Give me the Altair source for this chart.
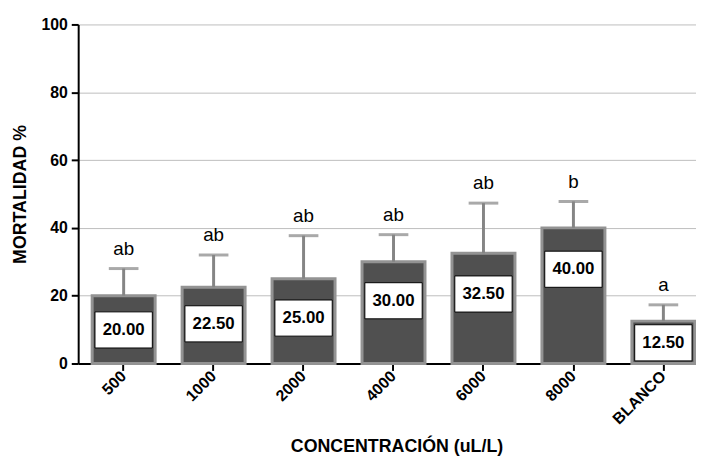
import altair as alt
import pandas as pd

categories = ["500", "1000", "2000", "4000", "6000", "8000", "BLANCO"]
mortality = [20.0, 22.5, 25.0, 30.0, 32.5, 40.0, 12.5]
error_top = [28.0, 32.0, 37.7, 38.0, 47.3, 47.8, 17.3]
letters = ["ab", "ab", "ab", "ab", "ab", "b", "a"]
label_y = [9.9, 11.7, 13.4, 18.5, 20.5, 27.8, 6.1]

df = pd.DataFrame({
    "cat": categories,
    "val": mortality,
    "err": error_top,
    "letter": letters,
    "ly": label_y,
    "txt": [f"{v:.2f}" for v in mortality],
})

FONT = "Liberation Sans"

xscale = alt.Scale(domain=categories, paddingInner=0.3, paddingOuter=0.084, align=0.925)
yscale = alt.Scale(domain=[0, 100], nice=False)

xaxis = alt.Axis(title="CONCENTRACIÓN (uL/L)", labelAngle=-45, labelAlign="right",
                 labelBaseline="middle", grid=False,
                 labelFont=FONT, labelFontWeight="bold", labelFontSize=16, labelColor="black",
                 labelPadding=3,
                 tickColor="black", tickSize=7, tickWidth=2,
                 domainColor="black", domainWidth=2,
                 titleFont=FONT, titleFontWeight="bold", titleFontSize=18, titleColor="black",
                 titleX=322, titleY=89, titleBaseline="alphabetic")
yaxis = alt.Axis(title="MORTALIDAD %", values=[0, 20, 40, 60, 80, 100],
                 labelFont=FONT, labelFontWeight="bold", labelFontSize=16, labelColor="black",
                 labelPadding=4,
                 tickColor="black", tickSize=7, tickWidth=2,
                 domainColor="black", domainWidth=2,
                 gridColor="#bdbdbd", gridWidth=1,
                 titleFont=FONT, titleFontWeight="bold", titleFontSize=18, titleColor="black",
                 titlePadding=12)


def X():
    return alt.X("cat:N", scale=xscale, sort=None, axis=xaxis)


def Y(field):
    return alt.Y(field, scale=yscale, axis=yaxis)


base = alt.Chart(df)

bars = base.mark_bar(fill="#505050", stroke="#939393", strokeWidth=3).encode(x=X(), y=Y("val:Q"))

errs = base.mark_rule(color="#858585", strokeWidth=3).encode(
    x=X(), y=Y("val:Q"), y2="err:Q",
)

caps = base.mark_tick(color="#858585", thickness=3, size=30, orient="horizontal").encode(
    x=X(), y=Y("err:Q"),
)

letter_text = base.mark_text(font=FONT, fontSize=19, baseline="bottom", dy=-10, color="black").encode(
    x=X(), y=Y("err:Q"), text="letter:N",
)

boxes = base.mark_point(
    shape="M-1,-0.63L1,-0.63L1,0.63L-1,0.63Z", size=3364, filled=True,
    fill="white", stroke="black", strokeWidth=1, opacity=1,
).encode(x=X(), y=Y("ly:Q"))

box_text = base.mark_text(font=FONT, fontSize=17, fontWeight="bold", color="black",
                          baseline="middle").encode(
    x=X(), y=Y("ly:Q"), text="txt:N",
)

chart = alt.layer(bars, errs, caps, letter_text, boxes, box_text).properties(
    width=625, height=343,
    autosize=alt.AutoSizeParams(type="none"),
    padding={"left": 71, "top": 14, "right": 0, "bottom": 96},
    background="white",
).configure_view(stroke=None)

chart.save("out.html", embed_options={"renderer": "svg", "actions": False})
